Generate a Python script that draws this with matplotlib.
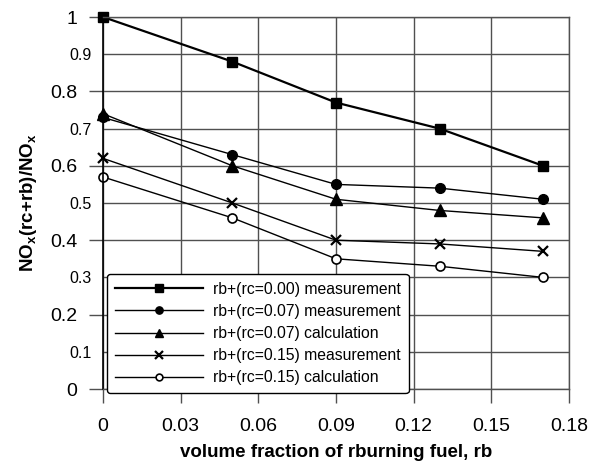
import matplotlib
matplotlib.use("Agg")
import matplotlib.pyplot as plt
from matplotlib.ticker import FixedLocator

plt.rcParams["font.family"] = "Liberation Sans"
plt.rcParams["mathtext.fontset"] = "custom"
plt.rcParams["mathtext.rm"] = "Liberation Sans"
plt.rcParams["mathtext.bf"] = "Liberation Sans:bold"

rb = [0, 0.05, 0.09, 0.13, 0.17]
rc000_meas = [1.00, 0.88, 0.77, 0.70, 0.60]
rc007_meas = [0.73, 0.63, 0.55, 0.54, 0.51]
rc007_calc = [0.74, 0.60, 0.51, 0.48, 0.46]
rc015_meas = [0.62, 0.50, 0.40, 0.39, 0.37]
rc015_calc = [0.57, 0.46, 0.35, 0.33, 0.30]

labels = ["rb+(rc=0.00) measurement", "rb+(rc=0.07) measurement",
          "rb+(rc=0.07) calculation", "rb+(rc=0.15) measurement",
          "rb+(rc=0.15) calculation"]

x_ticks = [0, 0.03, 0.06, 0.09, 0.12, 0.15, 0.18]
x_ticklabels = ["0", "0.03", "0.06", "0.09", "0.12", "0.15", "0.18"]
y_major = [0, 0.2, 0.4, 0.6, 0.8, 1.0]
y_major_labels = ["0", "0.2", "0.4", "0.6", "0.8", "1"]
y_minor = [0.1, 0.3, 0.5, 0.7, 0.9]
y_minor_labels = ["0.1", "0.3", "0.5", "0.7", "0.9"]

fig = plt.figure(figsize=(5.95, 4.61), dpi=100)
ax = fig.add_axes([103 / 595, 1 - 389 / 461, 466 / 595, 372 / 461])

ax.plot(rb, rc000_meas, "k-", marker="s", ms=7.5, lw=1.6, label=labels[0], clip_on=False)
ax.plot(rb, rc007_meas, "k-", marker="o", ms=7, lw=1.0, label=labels[1], clip_on=False)
ax.plot(rb, rc007_calc, "k-", marker="^", ms=8, lw=1.0, label=labels[2], clip_on=False)
ax.plot(rb, rc015_meas, "k-", marker="x", ms=7.5, mew=1.6, lw=1.0, label=labels[3],
        clip_on=False)
ax.plot(rb, rc015_calc, "k-", marker="o", ms=6.5, mfc="white", mew=1.2, lw=1.0,
        label=labels[4], clip_on=False)

ax.set_xlim(0, 0.18)
ax.set_ylim(0, 1)
ax.xaxis.set_major_locator(FixedLocator(x_ticks))
ax.set_xticklabels(x_ticklabels)
ax.yaxis.set_major_locator(FixedLocator(y_major))
ax.yaxis.set_minor_locator(FixedLocator(y_minor))
ax.set_yticklabels(y_major_labels)
ax.set_yticklabels(y_minor_labels, minor=True)

gridc = "#505050"
ax.grid(True, which="both", color=gridc, lw=1.0)
ax.set_axisbelow(True)
ax.tick_params(axis="x", which="major", direction="out", length=10, width=1.0,
               color=gridc, pad=11, labelsize=14)
ax.tick_params(axis="y", which="major", direction="out", length=10, width=1.0,
               color=gridc, pad=8.5, labelsize=14)
ax.tick_params(axis="y", which="minor", length=0, pad=8, labelsize=11.5)
for s in ax.spines.values():
    s.set_color(gridc)
    s.set_linewidth(1.0)
ax.spines["left"].set_color("black")
ax.spines["left"].set_linewidth(1.2)

ax.set_xlabel("volume fraction of rburning fuel, rb", fontsize=13.5,
              fontweight="bold", labelpad=6)
ax.set_ylabel(r"NO$_\mathbf{x}$(rc+rb)/NO$_\mathbf{x}$", fontsize=13.5,
              fontweight="bold", labelpad=8)

leg = ax.legend(loc="lower left", bbox_to_anchor=(0.0086, -0.0108),
                borderaxespad=0, fontsize=11.3, handlelength=5.6,
                handletextpad=0.64, labelspacing=0.45, borderpad=0.5,
                markerscale=0.75, framealpha=1, fancybox=True)
leg.get_frame().set_edgecolor("black")
leg.get_frame().set_linewidth(1.0)

fig.savefig("out.png", dpi=100)
